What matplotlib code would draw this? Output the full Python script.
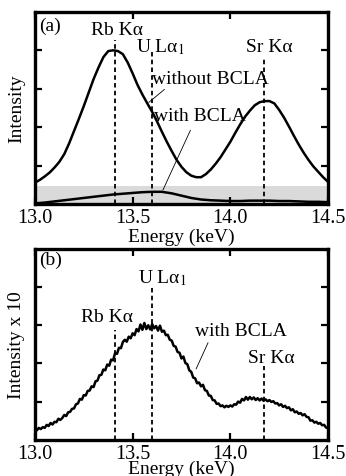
import numpy as np
import matplotlib
matplotlib.use("Agg")
import matplotlib.pyplot as plt

plt.rcParams['font.family'] = ['Liberation Serif', 'DejaVu Serif']
plt.rcParams['mathtext.fontset'] = 'stix'
plt.rcParams['font.size'] = 14

# spectrum without BCLA, 0.025 keV steps
e_without = np.round(np.arange(13.0, 14.5001, 0.025), 3)
i_without = [0.56, 0.63, 0.72, 0.82, 0.95, 1.10, 1.30, 1.58, 1.90, 2.22,
             2.55, 2.90, 3.25, 3.55, 3.82, 3.98, 4.00, 3.98, 3.90, 3.68,
             3.40, 3.10, 2.85, 2.62, 2.40, 2.15, 1.88, 1.62, 1.38, 1.15,
             0.97, 0.83, 0.74, 0.70, 0.70, 0.78, 0.90, 1.05, 1.22, 1.42,
             1.62, 1.85, 2.07, 2.27, 2.43, 2.57, 2.65, 2.68, 2.68, 2.62,
             2.45, 2.25, 2.02, 1.78, 1.55, 1.34, 1.15, 0.98, 0.84, 0.70,
             0.58]

# spectrum with BCLA, same scale, 0.05 keV steps
e_with = np.round(np.arange(13.0, 14.5001, 0.05), 2)
i_with = [0.02, 0.04, 0.07, 0.10, 0.13, 0.16, 0.19, 0.22, 0.25, 0.27,
          0.29, 0.31, 0.32, 0.32, 0.28, 0.22, 0.16, 0.12, 0.10, 0.09,
          0.08, 0.08, 0.09, 0.09, 0.09, 0.08, 0.08, 0.07, 0.06, 0.06,
          0.05]

# spectrum with BCLA magnified x10, 0.01 keV steps
e_with10 = np.round(np.arange(13.0, 14.5001, 0.01), 2)
i_with10 = [0.28, 0.25, 0.31, 0.28, 0.33, 0.31, 0.39, 0.36, 0.44, 0.40,
            0.47, 0.46, 0.55, 0.52, 0.57, 0.65, 0.62, 0.72, 0.73, 0.81,
            0.82, 0.93, 0.95, 1.07, 1.05, 1.17, 1.16, 1.28, 1.29, 1.40,
            1.38, 1.53, 1.55, 1.69, 1.70, 1.84, 1.82, 1.97, 1.94, 2.10,
            2.08, 2.27, 2.25, 2.41, 2.40, 2.56, 2.62, 2.57, 2.70, 2.66,
            2.79, 2.74, 2.90, 2.84, 3.02, 2.88, 3.06, 2.90, 3.00, 2.89,
            3.03, 2.92, 2.98, 2.86, 2.99, 2.83, 2.86, 2.74, 2.75, 2.62,
            2.60, 2.46, 2.44, 2.30, 2.28, 2.13, 2.18, 2.01, 1.98, 1.82,
            1.78, 1.63, 1.61, 1.48, 1.50, 1.40, 1.44, 1.30, 1.28, 1.16,
            1.15, 1.04, 1.03, 0.94, 0.95, 0.88, 0.90, 0.85, 0.89, 0.86,
            0.90, 0.87, 0.93, 0.92, 1.00, 0.97, 1.07, 1.03, 1.12, 1.05,
            1.12, 1.06, 1.11, 1.04, 1.09, 1.03, 1.08, 1.02, 1.06, 1.01,
            1.04, 0.99, 1.01, 0.95, 0.96, 0.90, 0.93, 0.86, 0.89, 0.83,
            0.85, 0.77, 0.80, 0.72, 0.74, 0.68, 0.70, 0.64, 0.67, 0.60,
            0.59, 0.50, 0.51, 0.45, 0.47, 0.42, 0.44, 0.38, 0.39, 0.32,
            0.30]

# line energies (keV)
e_rb = 13.41
e_u = 13.60
e_sr = 14.17

fig = plt.figure(figsize=(3.46, 4.77), dpi=100)
ax1 = fig.add_axes([0.101, 0.570, 0.847, 0.403])
ax2 = fig.add_axes([0.101, 0.076, 0.847, 0.400])


def style_axes(ax, pad):
    ax.set_xlim(13.0, 14.5)
    ax.set_ylim(0, 5)
    ax.set_xticks([13.0, 13.5, 14.0, 14.5])
    ax.set_xticklabels(['13.0', '13.5', '14.0', '14.5'])
    ax.set_yticks([1, 2, 3, 4])
    ax.set_yticklabels([])
    ax.tick_params(direction='in', top=True, right=True, length=5, width=1.6,
                   pad=3, labelsize=14.5)
    for s in ax.spines.values():
        s.set_linewidth(2.4)
    ax.set_xlabel('Energy (keV)', labelpad=pad)


dash = dict(color='black', lw=1.3, ls=(0, (2.5, 1.8)))
thin = dict(arrowstyle='-', color='black', lw=0.6)

# (a)
ax1.axhspan(0, 0.47, color='#dadada', lw=0, zorder=0)
ax1.plot(e_without, i_without, color='black', lw=1.8)
ax1.plot(e_with, i_with, color='black', lw=1.8)
ax1.vlines(e_rb, 0, 4.27, **dash)
ax1.vlines(e_u, 0, 4.03, **dash)
ax1.vlines(e_sr, 0, 3.77, **dash)
ax1.text(13.02, 4.65, '(a)', ha='left', va='center')
ax1.text(13.42, 4.55, 'Rb Kα', ha='center', va='center')
ax1.text(13.64, 4.10, r'U Lα$_1$', ha='center', va='center')
ax1.text(14.20, 4.10, 'Sr Kα', ha='center', va='center')
ax1.text(13.60, 3.27, 'without BCLA', ha='left', va='center')
ax1.text(13.61, 2.31, 'with BCLA', ha='left', va='center')
ax1.annotate('', xy=(13.572, 2.60), xytext=(13.674, 3.03), arrowprops=thin)
ax1.annotate('', xy=(13.649, 0.30), xytext=(13.802, 1.99), arrowprops=thin)
ax1.set_ylabel('Intensity', labelpad=4)
style_axes(ax1, 0)

# (b)
ax2.plot(e_with10, i_with10, color='black', lw=1.8)
ax2.vlines(e_rb, 0, 2.87, **dash)
ax2.vlines(e_u, 0, 4.03, **dash)
ax2.vlines(e_sr, 0, 1.93, **dash)
ax2.text(13.02, 4.74, '(b)', ha='left', va='center')
ax2.text(13.65, 4.27, r'U Lα$_1$', ha='center', va='center')
ax2.text(13.367, 3.23, 'Rb Kα', ha='center', va='center')
ax2.text(13.82, 2.87, 'with BCLA', ha='left', va='center')
ax2.text(14.21, 2.16, 'Sr Kα', ha='center', va='center')
ax2.annotate('', xy=(13.819, 1.79), xytext=(13.892, 2.61), arrowprops=thin)
ax2.set_ylabel('Intensity x 10', labelpad=4)
style_axes(ax2, -2)

fig.savefig('out.png', dpi=100)
